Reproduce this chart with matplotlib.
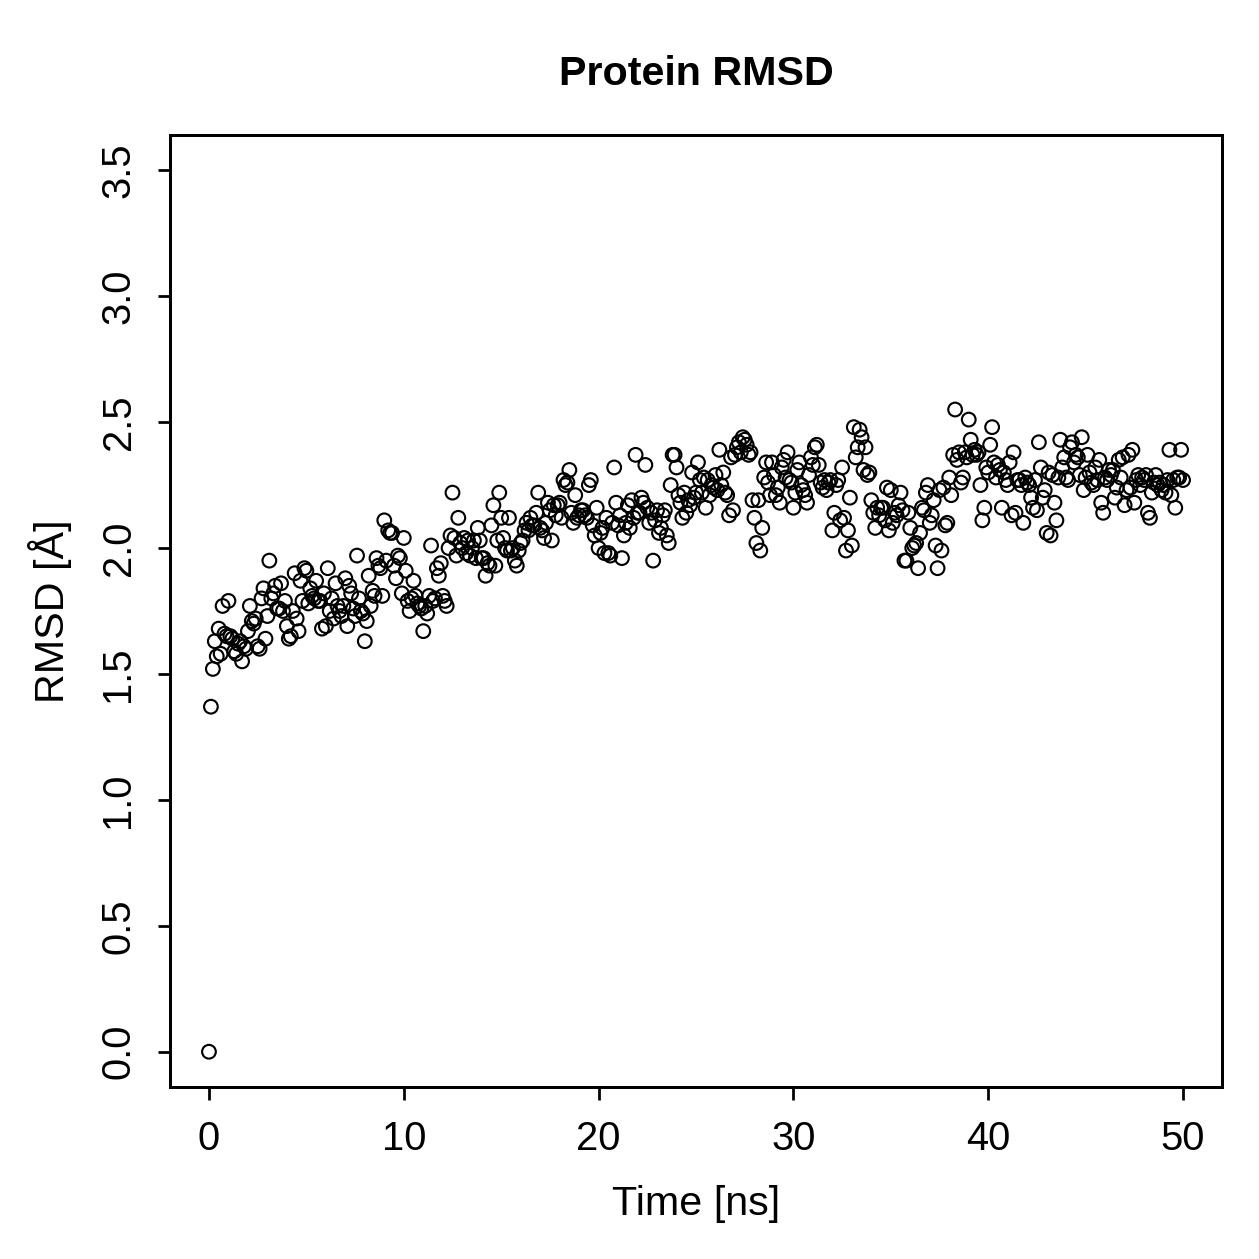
import matplotlib
matplotlib.use("Agg")
import matplotlib.pyplot as plt
import numpy as np

# RMSD values, one row per ns (0.1 ns steps)
rmsd = [
    0.00, 1.37, 1.52, 1.63, 1.57, 1.68, 1.58, 1.77, 1.66, 1.65,
    1.79, 1.65, 1.64, 1.59, 1.58, 1.62, 1.63, 1.55, 1.61, 1.60,
    1.67, 1.77, 1.71, 1.70, 1.72, 1.61, 1.60, 1.80, 1.84, 1.64,
    1.73, 1.95, 1.80, 1.82, 1.85, 1.76, 1.76, 1.86, 1.75, 1.79,
    1.69, 1.64, 1.65, 1.75, 1.90, 1.72, 1.67, 1.87, 1.79, 1.92,
    1.91, 1.78, 1.84, 1.81, 1.80, 1.87, 1.79, 1.79, 1.68, 1.82,
    1.69, 1.92, 1.75, 1.80, 1.72, 1.86, 1.77, 1.75, 1.73, 1.77,
    1.88, 1.69, 1.85, 1.82, 1.76, 1.73, 1.97, 1.80, 1.75, 1.74,
    1.63, 1.71, 1.89, 1.77, 1.83, 1.81, 1.96, 1.93, 1.92, 1.81,
    2.11, 1.95, 2.07, 2.06, 2.06, 1.93, 1.88, 1.97, 1.96, 1.82,
    2.04, 1.91, 1.79, 1.75, 1.80, 1.87, 1.81, 1.78, 1.77, 1.76,
    1.67, 1.77, 1.74, 1.81, 2.01, 1.79, 1.80, 1.92, 1.89, 1.94,
    1.81, 1.79, 1.77, 2.00, 2.05, 2.22, 2.04, 1.97, 2.12, 2.02,
    2.00, 2.04, 1.98, 2.03, 1.97, 2.00, 2.03, 1.96, 2.08, 2.03,
    1.96, 1.96, 1.89, 1.94, 1.93, 2.09, 2.17, 1.93, 2.03, 2.22,
    2.12, 2.04, 2.00, 1.99, 2.12, 1.99, 2.00, 1.95, 1.93, 1.99,
    2.02, 2.03, 2.07, 2.10, 2.07, 2.12, 2.09, 2.09, 2.14, 2.22,
    2.08, 2.07, 2.04, 2.10, 2.18, 2.15, 2.03, 2.17, 2.13, 2.17,
    2.18, 2.12, 2.27, 2.25, 2.26, 2.31, 2.14, 2.10, 2.21, 2.12,
    2.13, 2.15, 2.15, 2.13, 2.12, 2.25, 2.27, 2.09, 2.05, 2.16,
    2.00, 2.06, 2.08, 1.98, 2.12, 1.98, 1.97, 2.10, 2.32, 2.18,
    2.09, 2.13, 1.96, 2.05, 2.10, 2.17, 2.08, 2.19, 2.12, 2.37,
    2.14, 2.14, 2.20, 2.18, 2.33, 2.16, 2.10, 2.14, 1.95, 2.11,
    2.15, 2.06, 2.08, 2.13, 2.15, 2.05, 2.02, 2.25, 2.37, 2.37,
    2.32, 2.21, 2.18, 2.12, 2.22, 2.14, 2.19, 2.17, 2.30, 2.20,
    2.22, 2.34, 2.27, 2.22, 2.28, 2.16, 2.27, 2.21, 2.25, 2.24,
    2.29, 2.23, 2.39, 2.25, 2.30, 2.22, 2.21, 2.13, 2.36, 2.15,
    2.37, 2.40, 2.42, 2.38, 2.44, 2.43, 2.41, 2.37, 2.38, 2.19,
    2.12, 2.02, 2.19, 1.99, 2.08, 2.28, 2.34, 2.26, 2.21, 2.34,
    2.29, 2.21, 2.24, 2.18, 2.32, 2.35, 2.28, 2.38, 2.27, 2.26,
    2.16, 2.22, 2.31, 2.34, 2.25, 2.23, 2.21, 2.18, 2.29, 2.36,
    2.33, 2.40, 2.41, 2.33, 2.26, 2.24, 2.27, 2.23, 2.26, 2.27,
    2.07, 2.14, 2.25, 2.27, 2.11, 2.32, 2.12, 1.99, 2.07, 2.20,
    2.01, 2.48, 2.36, 2.40, 2.47, 2.44, 2.31, 2.40, 2.29, 2.30,
    2.19, 2.14, 2.08, 2.16, 2.13, 2.16, 2.16, 2.11, 2.24, 2.07,
    2.23, 2.10, 2.14, 2.13, 2.17, 2.22, 2.15, 1.95, 1.95, 2.14,
    2.08, 2.00, 2.01, 2.02, 1.92, 2.06, 2.16, 2.15, 2.22, 2.25,
    2.10, 2.13, 2.19, 2.01, 1.92, 2.23, 1.99, 2.24, 2.09, 2.10,
    2.28, 2.21, 2.37, 2.55, 2.35, 2.38, 2.26, 2.28, 2.38, 2.36,
    2.51, 2.43, 2.37, 2.39, 2.37, 2.38, 2.25, 2.11, 2.16, 2.32,
    2.30, 2.41, 2.48, 2.34, 2.28, 2.33, 2.31, 2.16, 2.30, 2.27,
    2.25, 2.34, 2.13, 2.38, 2.14, 2.27, 2.27, 2.25, 2.10, 2.28,
    2.26, 2.25, 2.20, 2.16, 2.27, 2.15, 2.42, 2.32, 2.20, 2.23,
    2.06, 2.30, 2.05, 2.29, 2.18, 2.11, 2.28, 2.43, 2.32, 2.36,
    2.28, 2.27, 2.40, 2.42, 2.34, 2.37, 2.36, 2.29, 2.44, 2.23,
    2.28, 2.37, 2.30, 2.26, 2.25, 2.32, 2.27, 2.35, 2.18, 2.14,
    2.28, 2.27, 2.31, 2.29, 2.31, 2.20, 2.24, 2.35, 2.28, 2.36,
    2.17, 2.23, 2.37, 2.24, 2.39, 2.18, 2.27, 2.29, 2.25, 2.28,
    2.27, 2.29, 2.14, 2.12, 2.22, 2.26, 2.29, 2.25, 2.26, 2.23,
    2.25, 2.22, 2.27, 2.39, 2.21, 2.27, 2.16, 2.28, 2.28, 2.39,
    2.27,
]
time_ns = np.arange(len(rmsd)) * 0.1

plt.rcParams['font.family'] = ['Liberation Sans', 'DejaVu Sans']

fig = plt.figure(figsize=(1259 / 180, 1259 / 180), dpi=180)
ax = fig.add_axes([170 / 1259, 1 - 1087 / 1259, (1222 - 170) / 1259, (1087 - 135) / 1259])

ax.scatter(time_ns, rmsd, s=30, facecolors='none', edgecolors='black', linewidths=0.85)

ax.set_xlim(-2, 52)
ax.set_ylim(-0.14, 3.64)
ax.set_xticks([0, 10, 20, 30, 40, 50])
ax.set_yticks([0.0, 0.5, 1.0, 1.5, 2.0, 2.5, 3.0, 3.5])
ax.set_yticklabels(['0.0', '0.5', '1.0', '1.5', '2.0', '2.5', '3.0', '3.5'],
                   rotation=90, va='center')
ax.tick_params(direction='out', length=5, width=1.1, labelsize=16, pad=8)
for s in ax.spines.values():
    s.set_linewidth(1.2)

ax.set_title('Protein RMSD', fontsize=16.5, fontweight='bold', pad=20)
ax.set_xlabel('Time [ns]', fontsize=16.5, labelpad=11)
ax.set_ylabel('RMSD [Å]', fontsize=16.5, labelpad=11)

fig.savefig('out.png', dpi=180)
